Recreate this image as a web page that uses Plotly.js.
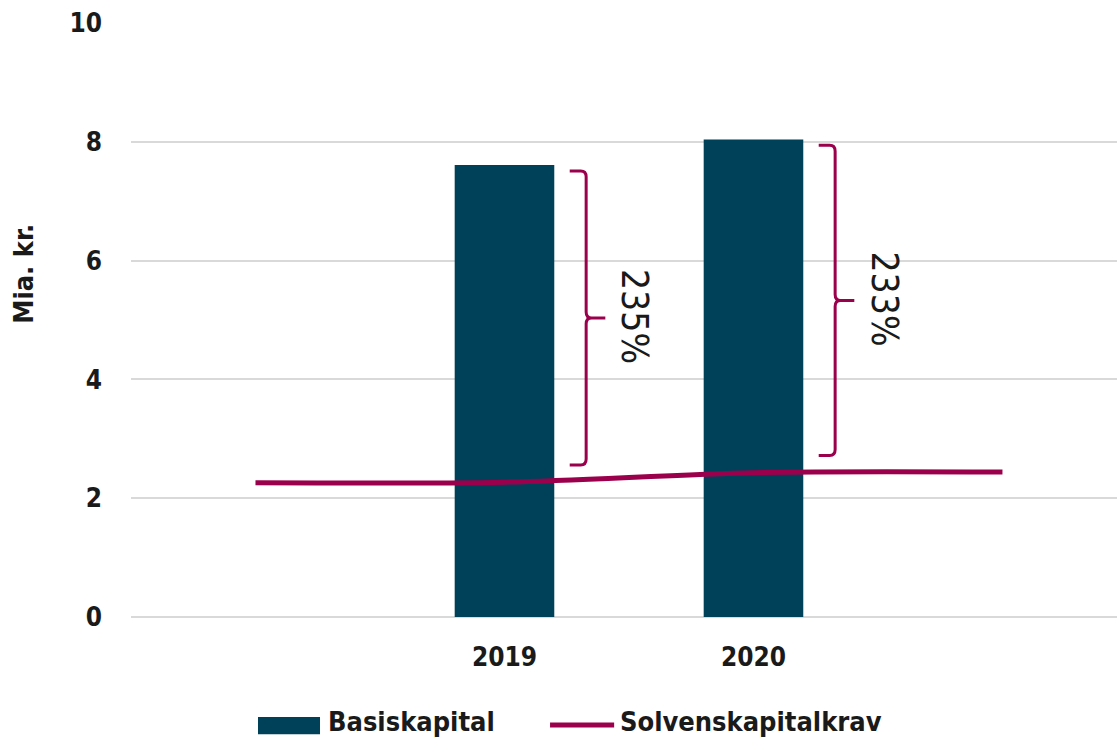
<!DOCTYPE html>
<html>
<head>
<meta charset="utf-8">
<script src="https://cdn.plot.ly/plotly-3.0.1.min.js"></script>
<style>
  html, body { margin: 0; padding: 0; background: #ffffff; }
  #chart { width: 1117px; height: 740px; }
</style>
</head>
<body>
<div id="chart"></div>
<script>
// ---- data ----
var categoryPositions = [0, 1, 2, 3];
var categoryLabels = ["", "2019", "2020", ""];
var barYears = [1, 2];
var basiskapital = [7.61, 8.04];
var solvenskapitalkrav = [2.26, 2.27, 2.43, 2.44];
var coverageLabels = ["235%", "233%"];
var yTicks = [0, 2, 4, 6, 8, 10];
var seriesNames = ["Basiskapital", "Solvenskapitalkrav"];

var barColor = "#00415a";
var lineColor = "#9b004c";
var gridColor = "#d9d9d9";
var textColor = "#1a1a1a";
var boldFont = "'DejaVu Sans Condensed', 'DejaVu Sans', sans-serif";

// ---- braces (derived from the data) ----
var shapeList = [];
var noteList = [];
for (var i = 0; i < barYears.length; i++) {
  var cat = barYears[i];
  var scr = solvenskapitalkrav[categoryPositions.indexOf(cat)];
  var yTop = basiskapital[i] - 0.1;
  var yBot = scr + 0.29;
  var yMid = (yTop + yBot) / 2;
  var xv = cat + 0.328;
  var xh = cat + 0.262;
  var xt = cat + 0.405;
  var rx = 0.022, ry = 0.1;
  var p = "M" + xh + "," + yTop +
          " L" + (xv - rx) + "," + yTop +
          " Q" + xv + "," + yTop + " " + xv + "," + (yTop - ry) +
          " L" + xv + "," + (yMid + ry) +
          " Q" + xv + "," + yMid + " " + (xv + rx) + "," + yMid +
          " L" + xt + "," + yMid +
          " M" + (xv + rx) + "," + yMid +
          " Q" + xv + "," + yMid + " " + xv + "," + (yMid - ry) +
          " L" + xv + "," + (yBot + ry) +
          " Q" + xv + "," + yBot + " " + (xv - rx) + "," + yBot +
          " L" + xh + "," + yBot;
  shapeList.push({
    type: "path", xref: "x", yref: "y", path: p,
    line: { color: lineColor, width: 3 }
  });
  noteList.push({
    xref: "x", yref: "y", x: cat + 0.525, y: yMid + 0.03,
    text: coverageLabels[i], showarrow: false, textangle: 90,
    font: { family: "'DejaVu Sans Condensed', 'DejaVu Sans', sans-serif", size: 37, color: textColor }
  });
}

// y-axis title placed like the reference (left, above centre)
noteList.push({
  xref: "paper", yref: "paper", x: -0.109, y: 0.577,
  xanchor: "center", yanchor: "middle",
  text: "<b>Mia. kr.</b>", showarrow: false, textangle: -90,
  font: { family: boldFont, size: 27, color: textColor }
});

// ---- legend drawn below the plot, like the reference ----
var legendY = -0.182;
var legendTextY = -0.1765;
shapeList.push({
  type: "rect", xref: "paper", yref: "paper",
  x0: 0.1288, x1: 0.1917, y0: legendY - 0.0155, y1: legendY + 0.0135,
  fillcolor: barColor, line: { width: 0 }
});
shapeList.push({
  type: "line", xref: "paper", yref: "paper",
  x0: 0.425, x1: 0.490, y0: legendY, y1: legendY,
  line: { color: lineColor, width: 5 }
});
noteList.push({
  xref: "paper", yref: "paper", x: 0.198, y: legendTextY,
  xanchor: "left", yanchor: "middle", showarrow: false,
  text: "<b>" + seriesNames[0] + "</b>",
  font: { family: boldFont, size: 27, color: textColor }
});
noteList.push({
  xref: "paper", yref: "paper", x: 0.494, y: legendTextY,
  xanchor: "left", yanchor: "middle", showarrow: false,
  text: "<b>" + seriesNames[1] + "</b>",
  font: { family: boldFont, size: 27, color: textColor }
});

var traces = [
  {
    type: "bar", name: seriesNames[0],
    x: barYears, y: basiskapital,
    width: 0.4,
    marker: { color: barColor },
    hoverinfo: "y"
  },
  {
    type: "scatter", mode: "lines", name: seriesNames[1],
    x: categoryPositions, y: solvenskapitalkrav,
    line: { color: lineColor, width: 5, shape: "spline", smoothing: 0.8 },
    hoverinfo: "y"
  }
];

var layout = {
  width: 1117, height: 740,
  margin: { l: 131, r: 0, t: 23, b: 123 },
  paper_bgcolor: "#ffffff", plot_bgcolor: "#ffffff",
  font: { family: boldFont, color: textColor },
  showlegend: false,
  xaxis: {
    type: "linear",
    range: [-0.5, 3.46],
    tickmode: "array",
    tickvals: categoryPositions,
    ticktext: categoryLabels,
    showgrid: false, zeroline: false, showline: false,
    ticks: "", ticklabelstandoff: 22,
    tickfont: { family: boldFont, size: 26, color: textColor, weight: "bold" },
    fixedrange: true
  },
  yaxis: {
    range: [0, 10],
    tickmode: "array", tickvals: yTicks,
    showgrid: true, gridcolor: gridColor, gridwidth: 2,
    zeroline: true, zerolinecolor: gridColor, zerolinewidth: 2,
    showline: false, ticks: "", ticklabelstandoff: 28,
    tickfont: { family: boldFont, size: 26, color: textColor, weight: "bold" },
    fixedrange: true
  },
  shapes: shapeList,
  annotations: noteList
};

Plotly.newPlot("chart", traces, layout, { displayModeBar: false, staticPlot: true });
</script>
</body>
</html>
